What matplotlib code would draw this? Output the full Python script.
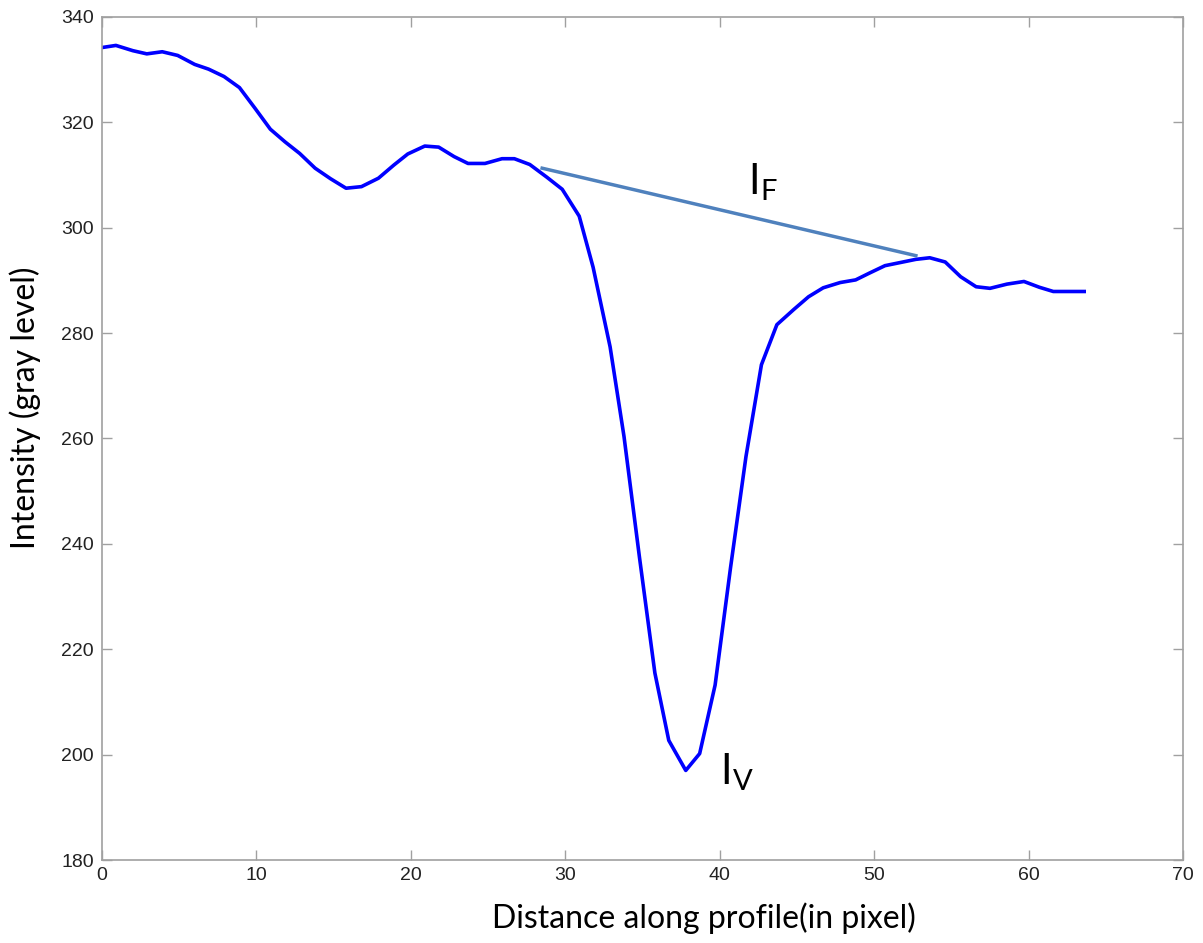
import matplotlib
matplotlib.use("Agg")
import matplotlib.pyplot as plt

# profile
dist = [0.0, 0.9, 2.0, 2.9, 3.9, 4.9, 6.0, 6.9, 7.9, 8.9, 9.9, 10.9, 11.85, 12.8,
        13.8, 14.8, 15.8, 16.8, 17.9, 18.9, 19.8, 20.9, 21.8, 22.8, 23.7, 24.8,
        25.9, 26.7, 27.7, 28.8, 29.8, 30.9, 31.8, 32.9, 33.8, 34.8, 35.8, 36.7,
        37.8, 38.7, 39.7, 40.7, 41.7, 42.7, 43.7, 44.8, 45.75, 46.7, 47.8, 48.8,
        49.7, 50.7, 51.7, 52.7, 53.6, 54.6, 55.6, 56.6, 57.5, 58.6, 59.7, 60.7,
        61.6, 62.6, 63.6]
intensity = [334.2, 334.6, 333.6, 333.0, 333.4, 332.7, 331.0, 330.1, 328.7, 326.6,
             322.7, 318.7, 316.3, 314.1, 311.3, 309.3, 307.5, 307.8, 309.4, 311.9,
             314.0, 315.5, 315.3, 313.5, 312.2, 312.2, 313.1, 313.1, 312.0, 309.6,
             307.3, 302.2, 292.5, 277.4, 260.4, 237.5, 215.5, 202.7, 197.0, 200.2,
             213.2, 235.5, 256.6, 274.0, 281.6, 284.5, 286.9, 288.6, 289.6, 290.1,
             291.4, 292.8, 293.4, 294.0, 294.3, 293.5, 290.7, 288.8, 288.5, 289.3,
             289.8, 288.7, 287.9, 287.9, 287.9]

# fill line (I_F) end points
fill_x = [28.5, 52.7]
fill_y = [311.3, 294.7]

plt.rcParams['font.family'] = ['Liberation Sans', 'DejaVu Sans']
plt.rcParams['mathtext.fontset'] = 'custom'
plt.rcParams['mathtext.rm'] = 'Lato'
plt.rcParams['mathtext.it'] = 'Lato'

fig = plt.figure(figsize=(12.03, 9.43), dpi=100)
ax = fig.add_axes([0.0848, 0.088, 0.8986, 0.894])

ax.plot(dist, intensity, color='#0000ff', lw=2.6)
ax.plot(fill_x, fill_y, color='#4f81bd', lw=2.5)

ax.text(41.8, 306.4, r'$\mathrm{I}_\mathrm{F}$', fontsize=30, color='black')
ax.text(40.0, 194.3, r'$\mathrm{I}_\mathrm{V}$', fontsize=30, color='black')

ax.set_xlim(0, 70)
ax.set_ylim(180, 340)
ax.set_xticks(range(0, 71, 10))
ax.set_yticks(range(180, 341, 20))

for s in ax.spines.values():
    s.set_color('#a0a0a0')
    s.set_linewidth(1.2)
ax.tick_params(direction='in', length=7, width=1, color='#a0a0a0',
               top=True, right=True, labelsize=14, labelcolor='#222222')
ax.tick_params(axis='x', pad=5)
ax.tick_params(axis='y', pad=6)

ax.set_xlabel('Distance along profile(in pixel)', fontsize=23, family='Lato')
ax.set_ylabel('Intensity (gray level)', fontsize=23, family='Lato')
ax.xaxis.set_label_coords(0.557, -0.05)
ax.yaxis.set_label_coords(-0.056, 0.537)

fig.savefig('out.png', dpi=100)
